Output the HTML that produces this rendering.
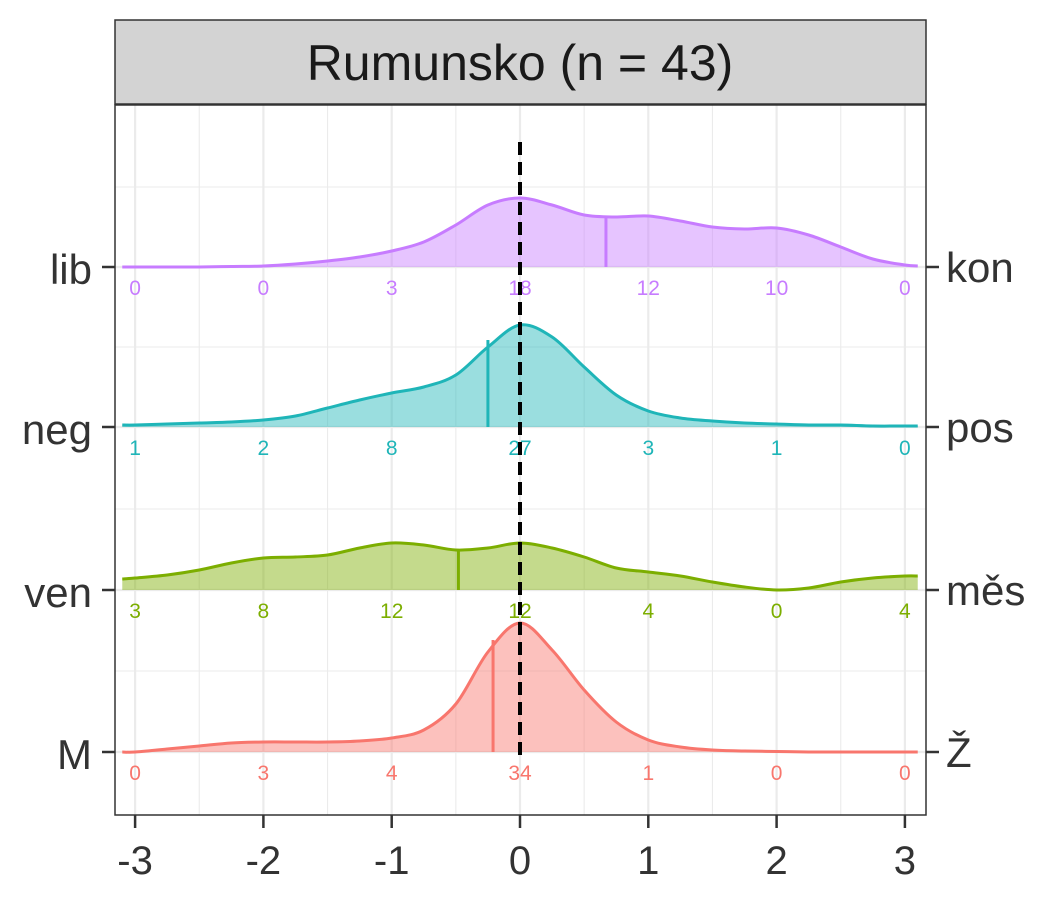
<!DOCTYPE html>
<html><head><meta charset="utf-8"><style>body{margin:0;background:#fff}svg{display:block;font-family:"Liberation Sans",Arial,sans-serif}</style></head>
<body>
<svg id="chart" width="1050" height="900"></svg>
<script>
const xs = [-3.1,-3,-2.75,-2.5,-2.25,-2,-1.75,-1.5,-1.25,-1,-0.75,-0.5,-0.25,0,0.25,0.5,0.75,1,1.25,1.5,1.75,2,2.25,2.5,2.75,3,3.1];
const leftLabels = ["lib","neg","ven","M"];
const rightLabels = ["kon","pos","měs","Ž"];
const colors = ["#C77CFF","#1FB5B8","#7CAE00","#F8766D"];
// density heights (relative units) at xs
const densLib = [0,0,0,0,0.5,1,3,6,10,16,25,42,62,69,62,52,50,51,46,40,38,39,32,20,8,2,1];
const densNeg = [2,2,3,4,5,7,11,19,27,34,40,52,80,102,90,60,32,16,9,6,4,3,2,2,1,1,1];
const densVen = [11,12,15,20,27,32,33,35,42,47,45,40,42,47,42,33,22,18,14,8,3,0,2,8,12,14,14];
const densM = [0,0,3,6,9,10,10,10,11,14,22,48,100,129,102,62,30,12,5,2,1,0.5,0,0,0,0,0];
const medians = [0.67,-0.25,-0.48,-0.21];
const medianHeights = [49,87,39,112];
const countsLib = [0,0,3,18,12,10,0];
const countsNeg = [1,2,8,27,3,1,0];
const countsVen = [3,8,12,12,4,0,4];
const countsM = [0,3,4,34,1,0,0];
const xTicks = [-3,-2,-1,0,1,2,3];

const dens=[densLib,densNeg,densVen,densM], counts=[countsLib,countsNeg,countsVen,countsM];
const baselines=[267,427,590,752];
const X=v=>520+v*128.3, H=d=>d;
const svg=document.getElementById('chart');
const NS="http://www.w3.org/2000/svg";
function el(t,a,p){const e=document.createElementNS(NS,t);for(const k in a)e.setAttribute(k,a[k]);(p||svg).appendChild(e);return e;}
el('rect',{x:115,y:105,width:811,height:710,fill:'#fff'});
for(let v=-3.5;v<=3.5;v+=0.5){const x=X(v);if(x<115||x>926)continue;
 const g=el('line',{x1:x,x2:x,y1:105,y2:815,stroke:'#EBEBEB','stroke-width':Number.isInteger(v)?2.2:1.1});
 }
[187,347,509,671].forEach(y=>el('line',{x1:115,x2:926,y1:y,y2:y,stroke:'#EBEBEB','stroke-width':1.1}));
baselines.forEach(y=>el('line',{x1:115,x2:926,y1:y,y2:y,stroke:'#EBEBEB','stroke-width':2.2}));
function smooth(pts){let d=`M${pts[0][0]},${pts[0][1]}`;for(let i=0;i<pts.length-1;i++){const p0=pts[Math.max(i-1,0)],p1=pts[i],p2=pts[i+1],p3=pts[Math.min(i+2,pts.length-1)];
 d+=` C${p1[0]+(p2[0]-p0[0])/6},${p1[1]+(p2[1]-p0[1])/6} ${p2[0]-(p3[0]-p1[0])/6},${p2[1]-(p3[1]-p1[1])/6} ${p2[0]},${p2[1]}`;}return d;}
dens.forEach((d,i)=>{const b=baselines[i];const pts=xs.map((x,j)=>[X(x),b-H(d[j])]);const line=smooth(pts);
 const f=el('path',{d:line+` L${X(xs[xs.length-1])},${b} L${X(xs[0])},${b} Z`,fill:colors[i],'fill-opacity':0.45,stroke:'none'});
 
 const l=el('path',{d:line,fill:'none',stroke:colors[i],'stroke-width':3});
 
 const m=el('line',{x1:X(medians[i]),x2:X(medians[i]),y1:b,y2:b-H(medianHeights[i]),stroke:colors[i],'stroke-width':3});
 
 counts[i].forEach((c,j)=>{const t=el('text',{x:X(xTicks[j]),y:b+28,'text-anchor':'middle','font-size':21,fill:colors[i]});t.textContent=c;
  });
 const lt=el('text',{x:92,y:b+17,'text-anchor':'end','font-size':42,fill:'#333'});lt.textContent=leftLabels[i];
 
 const rt=el('text',{x:946,y:b+15,'font-size':42,fill:'#333'});rt.textContent=rightLabels[i];
 
 el('line',{x1:102,x2:115,y1:b,y2:b,stroke:'#333','stroke-width':2.5});
 el('line',{x1:926,x2:939,y1:b,y2:b,stroke:'#333','stroke-width':2.5});
});
const dl=el('line',{x1:X(0),x2:X(0),y1:142,y2:762,stroke:'#000','stroke-width':4,'stroke-dasharray':'13,7'});

el('rect',{x:115,y:105,width:811,height:710,fill:'none',stroke:'#333','stroke-width':1.5});
xTicks.forEach(v=>{el('line',{x1:X(v),x2:X(v),y1:815,y2:828,stroke:'#333','stroke-width':2.5});
 const t=el('text',{x:X(v),y:874,'text-anchor':'middle','font-size':40,fill:'#333'});t.textContent=v;
 });
const s=el('rect',{x:115,y:20,width:811,height:84,fill:'#D3D3D3',stroke:'#333','stroke-width':1.5});

const st=el('text',{x:520,y:80,'text-anchor':'middle','font-size':50,fill:'#1A1A1A'});st.textContent='Rumunsko (n = 43)';

</script>
</body></html>
